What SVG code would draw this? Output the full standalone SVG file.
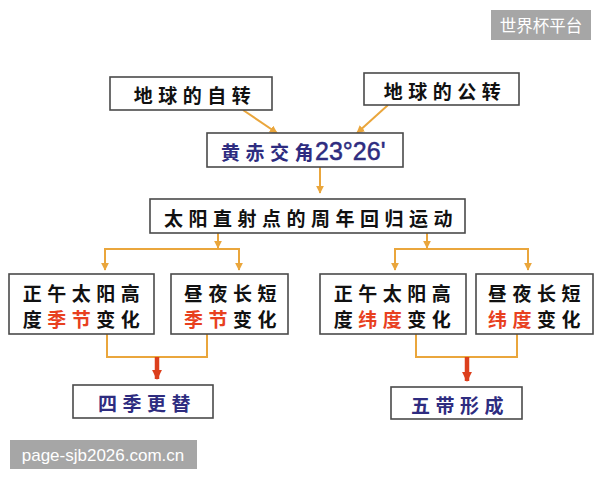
<svg xmlns="http://www.w3.org/2000/svg" width="600" height="480" viewBox="0 0 600 480">
<defs>
<style>
.box{fill:#fff;stroke:#4a4a4a;stroke-width:1.6}
.t{font-family:"Noto Sans CJK SC","Noto Sans CJK TC",sans-serif;font-weight:700;font-size:19px;letter-spacing:5.5px;text-anchor:middle;dominant-baseline:central;fill:#111}
.navy{fill:#2e2c80}
.red{fill:#e8401e}
.num{font-family:"Liberation Sans",Arial,sans-serif;font-weight:400;font-size:25px;letter-spacing:0;fill:#2e2c80;stroke:#2e2c80;stroke-width:0.5}
.c{fill:none;stroke:#eaa63c;stroke-width:2}
.wm{font-family:"Noto Sans CJK SC","Liberation Sans",sans-serif;fill:#fff;text-anchor:middle;dominant-baseline:central}
</style>
<marker id="ah" viewBox="0 0 10 10" refX="9" refY="5" markerWidth="4" markerHeight="4" orient="auto" markerUnits="strokeWidth">
<path d="M0,0 L10,5 L0,10 z" fill="#eaa63c"/>
</marker>
<marker id="rh" viewBox="0 0 10 10" refX="9" refY="5" markerWidth="2.2" markerHeight="2.4" orient="auto" markerUnits="strokeWidth">
<path d="M0,0 L10,5 L0,10 z" fill="#dc3f1c"/>
</marker>
</defs>
<rect width="600" height="480" fill="#fff"/>

<g id="connectors">
<line class="c" x1="243" y1="110" x2="277" y2="133" marker-end="url(#ah)"/>
<line class="c" x1="388" y1="105" x2="357" y2="133" marker-end="url(#ah)"/>
<line class="c" x1="320" y1="167" x2="320" y2="193" marker-end="url(#ah)"/>
<line class="c" x1="218" y1="233" x2="218" y2="248" marker-end="url(#ah)"/>
<polyline class="c" points="105,269 105,249 239,249 239,269"/>
<line class="c" x1="105" y1="258" x2="105" y2="270" marker-end="url(#ah)"/>
<line class="c" x1="239" y1="258" x2="239" y2="270" marker-end="url(#ah)"/>
<line class="c" x1="427" y1="233" x2="427" y2="248" marker-end="url(#ah)"/>
<polyline class="c" points="395,269 395,249 528,249 528,269"/>
<line class="c" x1="395" y1="258" x2="395" y2="270" marker-end="url(#ah)"/>
<line class="c" x1="528" y1="258" x2="528" y2="270" marker-end="url(#ah)"/>
<polyline class="c" points="107,334 107,357 207,357 207,334"/>
<polyline class="c" points="416,334 416,357 517,357 517,334"/>
<line x1="157" y1="357" x2="157" y2="379" stroke="#dc3f1c" stroke-width="4.5" marker-end="url(#rh)"/>
<line x1="467" y1="357" x2="467" y2="381" stroke="#dc3f1c" stroke-width="4.5" marker-end="url(#rh)"/>
</g>

<g id="n1">
<rect class="box" x="110" y="77" width="162" height="33"/>
<text class="t" x="195" y="94">地球的自转</text>
</g>
<g id="n2">
<rect class="box" x="364" y="73" width="155" height="32"/>
<text class="t" x="445" y="90">地球的公转</text>
</g>
<g id="n3">
<rect class="box" x="207" y="133" width="196" height="34"/>
<text class="t navy" x="221" y="151" style="text-anchor:start">黄赤交角<tspan class="num" dx="-4">23°26'</tspan></text>
</g>
<g id="n4">
<rect class="box" x="150" y="199" width="315" height="34"/>
<text class="t" x="311" y="217">太阳直射点的周年回归运动</text>
</g>
<g id="n5">
<rect class="box" x="9" y="274" width="145" height="60"/>
<text class="t" x="84" y="292">正午太阳高</text>
<text class="t" x="84" y="318">度<tspan class="red">季节</tspan>变化</text>
</g>
<g id="n6">
<rect class="box" x="171" y="274" width="117" height="60"/>
<text class="t" x="233" y="292">昼夜长短</text>
<text class="t" x="233" y="318"><tspan class="red">季节</tspan>变化</text>
</g>
<g id="n7">
<rect class="box" x="320" y="274" width="146" height="60"/>
<text class="t" x="395" y="292">正午太阳高</text>
<text class="t" x="395" y="318">度<tspan class="red">纬度</tspan>变化</text>
</g>
<g id="n8">
<rect class="box" x="476" y="274" width="117" height="60"/>
<text class="t" x="537" y="292">昼夜长短</text>
<text class="t" x="537" y="318"><tspan class="red">纬度</tspan>变化</text>
</g>
<g id="n9">
<rect class="box" x="73" y="385" width="140" height="33"/>
<text class="t navy" x="147" y="402">四季更替</text>
</g>
<g id="n10">
<rect class="box" x="391" y="387" width="131" height="32"/>
<text class="t navy" x="460" y="404">五带形成</text>
</g>

<g id="watermarks">
<rect x="491" y="10" width="100" height="30" fill="#a6a6a6"/>
<text class="wm" x="541" y="25" font-size="16.5">世界杯平台</text>
<rect x="10" y="440" width="187" height="29" fill="#a6a6a6"/>
<text class="wm" x="103" y="455" font-size="17" style="font-family:'Liberation Sans',Arial,sans-serif">page-sjb2026.com.cn</text>
</g>
</svg>
